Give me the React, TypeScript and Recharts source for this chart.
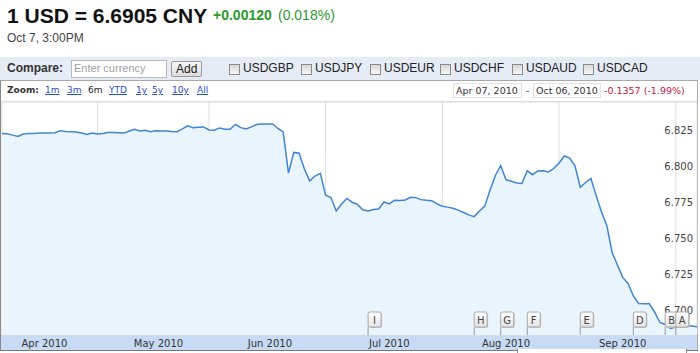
import React from "react";
import {
  AreaChart,
  Area,
  XAxis,
  YAxis,
  CartesianGrid,
  ReferenceDot,
  ReferenceLine,
} from "recharts";

// USD/CNY daily rate, Apr 07 2010 .. Oct 07 2010 (trading-day index)
const rates = [
  6.8247, 6.8244, 6.8235, 6.8226, 6.8243, 6.8247, 6.8247, 6.825, 6.825, 6.825,
  6.8251, 6.8266, 6.826, 6.8258, 6.8256, 6.8249, 6.824, 6.825, 6.8243, 6.8246,
  6.8253, 6.8253, 6.8251, 6.8249, 6.8264, 6.8276, 6.8264, 6.8269, 6.8259, 6.8265,
  6.8264, 6.8263, 6.826, 6.8259, 6.8278, 6.8299, 6.8287, 6.829, 6.8292, 6.8271,
  6.8269, 6.8285, 6.8276, 6.8276, 6.831, 6.8287, 6.8278, 6.8292, 6.8309, 6.8313,
  6.8313, 6.8313, 6.8281, 6.8257, 6.7972, 6.8115, 6.8109, 6.8, 6.7917, 6.7951,
  6.7969, 6.7817, 6.7802, 6.7708, 6.7757, 6.7795, 6.7769, 6.7754, 6.7717, 6.7708,
  6.7719, 6.7722, 6.7771, 6.7757, 6.7783, 6.7781, 6.7785, 6.7803, 6.7801, 6.7787,
  6.7783, 6.778, 6.7757, 6.7741, 6.7735, 6.7727, 6.7714, 6.7698, 6.7681, 6.7669,
  6.7708, 6.7742, 6.7854, 6.7955, 6.8024, 6.7925, 6.7915, 6.7903, 6.7899, 6.7988,
  6.796, 6.7986, 6.7988, 6.7979, 6.8003, 6.8042, 6.809, 6.8076, 6.8022, 6.7873,
  6.7906, 6.7934, 6.7815, 6.7701, 6.7608, 6.742, 6.7333, 6.7247, 6.7205, 6.7118,
  6.7066, 6.7064, 6.7064, 6.7007, 6.6934, 6.692, 6.6892, 6.6903, 6.6917, 6.6913,
  6.691, 6.6905,
];

// month boundaries (trading-day index of the first day of each month)
const monthStarts = [18, 39, 61, 83, 105, 127];
// month label positions (trading-day index) and texts
const monthLabelPos = [8, 29.5, 50.5, 73, 95, 117];
const monthLabels = ["Apr 2010", "May 2010", "Jun 2010", "Jul 2010", "Aug 2010", "Sep 2010"];

const yTicks = [6.7, 6.725, 6.75, 6.775, 6.8, 6.825];
const yDomain = [6.6847, 6.8465];
const xDomain = [0, 131];

// news flags
const flagIdx = [69, 89, 94, 99, 109, 119, 125, 127];
const flagLetters = ["I", "H", "G", "F", "E", "D", "B", "A"];

const zoomLinks = ["1m", "3m", "6m", "YTD", "1y", "5y", "10y", "All"];
const compareSymbols = ["USDGBP", "USDJPY", "USDEUR", "USDCHF", "USDAUD", "USDCAD"];

const data = rates.map((v, i) => ({ i, v }));

const VERD = "'DejaVu Sans', Verdana, sans-serif";
const ARIAL = "'Liberation Sans', Arial, sans-serif";

const BoundaryTick = (props: any) => {
  const { x, y } = props;
  return <line x1={x} x2={x} y1={y - 4} y2={y} stroke="#8a8a8a" strokeWidth={1} />;
};

const MonthTick = (props: any) => {
  const { x, y, payload } = props;
  const idx = monthLabelPos.indexOf(payload.value);
  return (
    <text x={x} y={y + 12} textAnchor="middle" fontFamily={VERD} fontSize={10} fill="#333">
      {monthLabels[idx]}
    </text>
  );
};

const YLabel = (props: any) => {
  const { viewBox, value } = props;
  if (!viewBox) return null;
  return (
    <text
      x={viewBox.x + viewBox.width - 4}
      y={viewBox.y + 1}
      textAnchor="end"
      fontFamily={VERD}
      fontSize={10}
      fill="#444"
    >
      {Number(value).toFixed(3)}
    </text>
  );
};

const FlagShape = ({ cx, cy, letter }: any) => {
  if (cx == null || cy == null) return null;
  return (
    <g>
      <line x1={cx} x2={cx} y1={cy} y2={cy - 8} stroke="#9a9a9a" strokeWidth={1} />
      <rect x={cx + 1} y={cy - 22} width={13} height={15} fill="#c8c8c8" rx={2} />
      <rect x={cx} y={cy - 23} width={13} height={15} fill="url(#flagGrad)" stroke="#a8a8a8" rx={2} />
      <text x={cx + 6.5} y={cy - 11.5} textAnchor="middle" fontFamily={VERD} fontSize={10} fill="#444">
        {letter}
      </text>
    </g>
  );
};

export default function App() {
  const abs = (s: React.CSSProperties): React.CSSProperties => ({ position: "absolute", ...s });
  const checkX = [229, 301, 370, 440, 512, 583];
  const zoomX = [45, 67, 88, 109, 136, 152, 172, 197];
  return (
    <div style={abs({ left: 0, top: 0, width: 700, height: 353, background: "#fff", overflow: "hidden" })}>
      {/* header */}
      <div style={abs({ left: 7, top: 5, fontFamily: ARIAL, fontWeight: "bold", fontSize: 21, lineHeight: "21px", color: "#111", whiteSpace: "nowrap" })}>
        1 USD = 6.6905 CNY
      </div>
      <div style={abs({ left: 213, top: 8, fontFamily: ARIAL, fontWeight: "bold", fontSize: 14, lineHeight: "14px", color: "#2d9a2d", whiteSpace: "nowrap" })}>
        +0.00120
      </div>
      <div style={abs({ left: 278, top: 8, fontFamily: ARIAL, fontSize: 14, lineHeight: "14px", color: "#2d9a2d", whiteSpace: "nowrap" })}>
        (0.018%)
      </div>
      <div style={abs({ left: 7, top: 32, fontFamily: ARIAL, fontSize: 12, lineHeight: "12px", color: "#444", whiteSpace: "nowrap" })}>
        Oct 7, 3:00PM
      </div>

      {/* compare bar */}
      <div style={abs({ left: 0, top: 57, width: 700, height: 23, background: "#e6ecf6" })} />
      <div style={abs({ left: 7, top: 62, fontFamily: ARIAL, fontWeight: "bold", fontSize: 12, lineHeight: "12px", color: "#333" })}>
        Compare:
      </div>
      <div style={abs({ left: 71, top: 60, width: 96, height: 18, boxSizing: "border-box", background: "#fff", border: "1px solid #b8b8b8" })} />
      <div style={abs({ left: 74, top: 63, fontFamily: ARIAL, fontSize: 11, lineHeight: "11px", color: "#a0a0a0", whiteSpace: "nowrap" })}>
        Enter currency
      </div>
      <div style={abs({ left: 171, top: 61, width: 31, height: 16, boxSizing: "border-box", border: "1px solid #9a9a9a", borderRadius: 2, background: "linear-gradient(#f8f8f8,#dcdcdc)" })} />
      <div style={abs({ left: 176, top: 63, fontFamily: ARIAL, fontSize: 12, lineHeight: "12px", color: "#222" })}>Add</div>
      {compareSymbols.map((s, k) => (
        <React.Fragment key={s}>
          <div style={abs({ left: checkX[k], top: 64, width: 11, height: 11, boxSizing: "border-box", border: "1px solid #8a8a8a", background: "linear-gradient(#d8d8d8,#f8f8f8)" })} />
          <div style={abs({ left: checkX[k] + 14, top: 62, fontFamily: ARIAL, fontSize: 12, lineHeight: "12px", color: "#222", whiteSpace: "nowrap" })}>
            {s}
          </div>
        </React.Fragment>
      ))}

      {/* chart frame */}
      <div style={abs({ left: 0, top: 80, width: 698, height: 271, boxSizing: "border-box", border: "1px solid #a8a8a8", borderBottomColor: "#777", borderLeftColor: "#888" })} />
      <div style={abs({ left: 1, top: 101, width: 696, height: 1, background: "#dddddd" })} />

      {/* zoom row */}
      <div style={abs({ left: 7, top: 86, fontFamily: VERD, fontWeight: "bold", fontSize: 9, lineHeight: "9px", color: "#333" })}>Zoom:</div>
      {zoomLinks.map((z, k) => (
        <div
          key={z}
          style={abs({
            left: zoomX[k],
            top: 86,
            fontFamily: VERD,
            fontSize: 9,
            lineHeight: "9px",
            color: z === "6m" ? "#222" : "#2a4ecc",
            textDecoration: z === "6m" ? "none" : "underline",
            whiteSpace: "nowrap",
          })}
        >
          {z}
        </div>
      ))}
      <div style={abs({ left: 453, top: 83, width: 69, height: 15, boxSizing: "border-box", border: "1px solid #e2e2e2" })} />
      <div style={abs({ left: 456, top: 86, fontFamily: VERD, fontSize: 9.5, lineHeight: "10px", color: "#333", whiteSpace: "nowrap" })}>Apr 07, 2010</div>
      <div style={abs({ left: 526, top: 86, fontFamily: VERD, fontSize: 9.5, lineHeight: "10px", color: "#333" })}>-</div>
      <div style={abs({ left: 533, top: 83, width: 68, height: 15, boxSizing: "border-box", border: "1px solid #e2e2e2" })} />
      <div style={abs({ left: 536, top: 86, fontFamily: VERD, fontSize: 9.5, lineHeight: "10px", color: "#333", whiteSpace: "nowrap" })}>Oct 06, 2010</div>
      <div style={abs({ left: 604, top: 86, fontFamily: VERD, fontSize: 9.5, lineHeight: "10px", color: "#c4163f", whiteSpace: "nowrap" })}>-0.1357 (-1.99%)</div>

      {/* x-axis band */}
      <div style={abs({ left: 1, top: 335, width: 696, height: 15, background: "#c7dbf4" })} />
      <div style={abs({ left: 517, top: 349, width: 170, height: 6, boxSizing: "border-box", background: "#fff", borderLeft: "1px solid #888", borderRight: "1px solid #888" })} />

      {/* chart */}
      <div style={abs({ left: 0, top: 102 })}>
        <AreaChart width={700} height={251} data={data} margin={{ top: 0, right: 3, bottom: 3, left: 2 }}>
          <defs>
            <linearGradient id="flagGrad" x1="0" y1="0" x2="0" y2="1">
              <stop offset="0%" stopColor="#ffffff" />
              <stop offset="100%" stopColor="#e4e4e4" />
            </linearGradient>
          </defs>
          <CartesianGrid xAxisId="grid" stroke="#dedede" strokeWidth={1} />
          <XAxis
            xAxisId="grid"
            dataKey="i"
            type="number"
            domain={xDomain}
            ticks={monthStarts}
            allowDataOverflow
            height={0}
            axisLine={false}
            tickLine={false}
            tickSize={0}
            tickMargin={0}
            tick={<BoundaryTick />}
            interval={0}
          />
          <XAxis
            xAxisId="lbl"
            dataKey="i"
            type="number"
            domain={xDomain}
            ticks={monthLabelPos}
            allowDataOverflow
            height={15}
            axisLine={false}
            tickLine={false}
            tickSize={0}
            tickMargin={0}
            tick={<MonthTick />}
            interval={0}
          />
          <YAxis
            orientation="right"
            mirror
            width={0}
            domain={yDomain}
            ticks={yTicks}
            allowDataOverflow
            axisLine={false}
            tickLine={false}
            tick={false}
          />
          <Area
            xAxisId="grid"
            type="linear"
            dataKey="v"
            stroke="#3f84d8"
            strokeWidth={1.5}
            fill="#e9f4fd"
            fillOpacity={1}
            isAnimationActive={false}
            dot={false}
            activeDot={false}
          />
          {yTicks.map((t) => (
            <ReferenceLine
              key={t}
              xAxisId="grid"
              y={t}
              stroke="none"
              ifOverflow="visible"
              label={(p: any) => <YLabel viewBox={p.viewBox} value={t} />}
            />
          ))}
          {flagIdx.map((fi, k) => (
            <ReferenceDot
              key={flagLetters[k]}
              xAxisId="grid"
              x={fi}
              y={yDomain[0]}
              ifOverflow="visible"
              shape={(p: any) => <FlagShape cx={p.cx} cy={p.cy} letter={flagLetters[k]} />}
            />
          ))}
        </AreaChart>
      </div>
    </div>
  );
}
